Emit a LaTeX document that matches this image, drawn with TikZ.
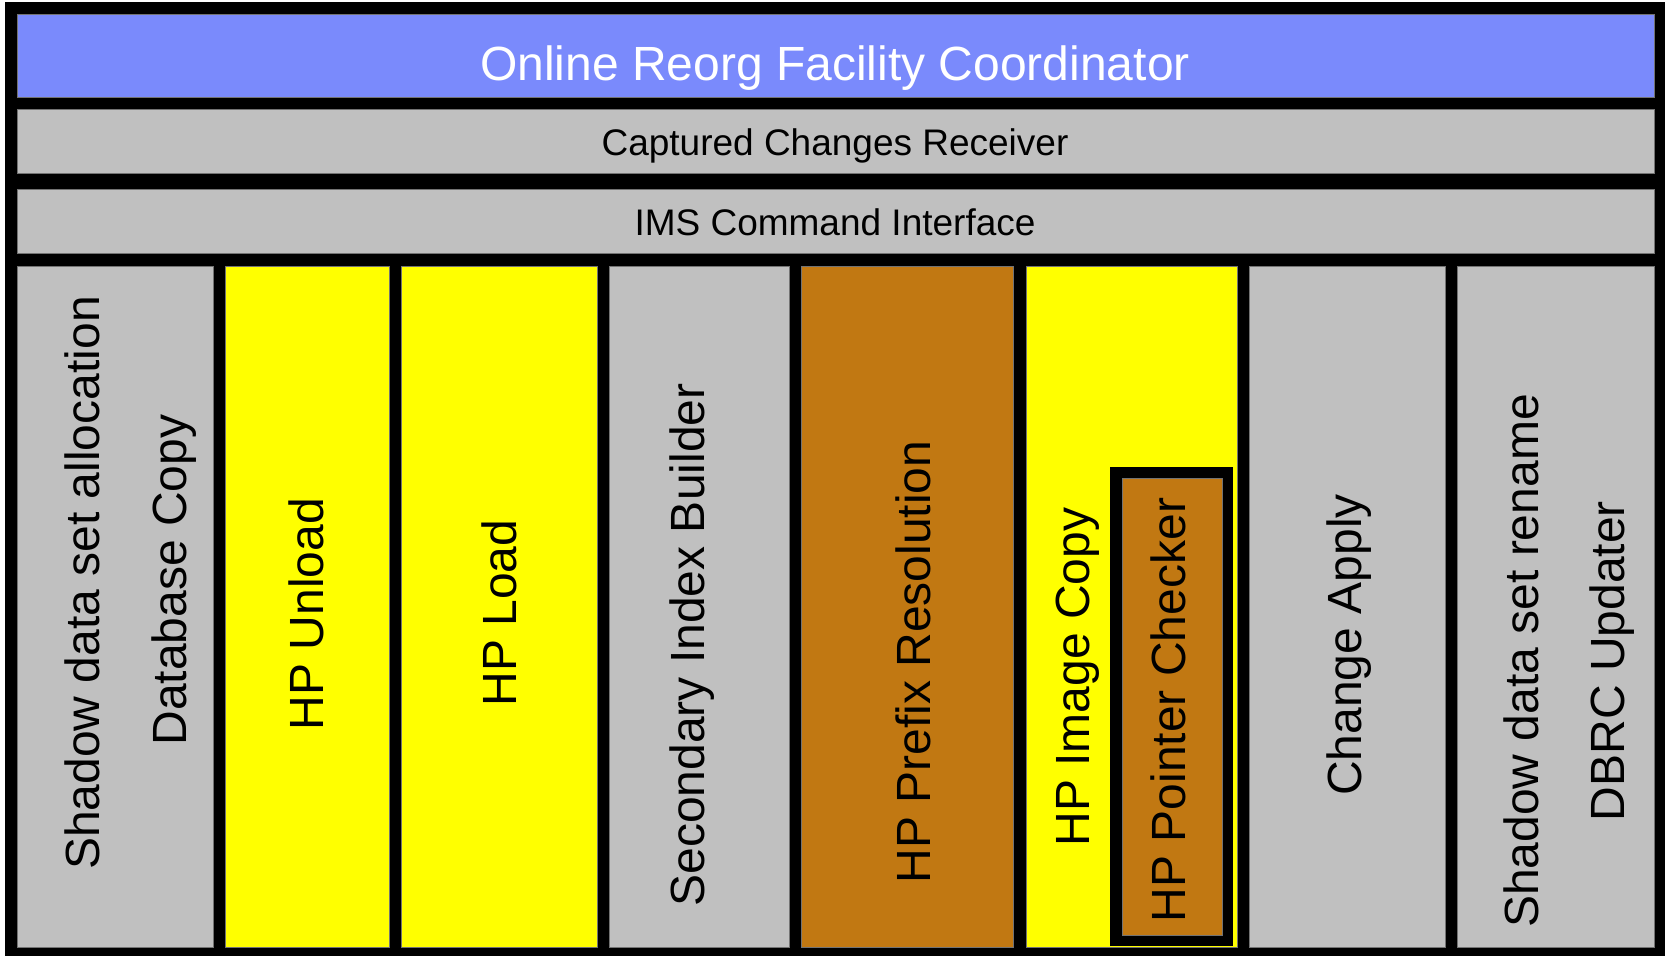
\documentclass[tikz,border=0pt]{standalone}
\usepackage{fontspec}
\setmainfont{Liberation Sans}
\definecolor{coordblue}{RGB}{122,138,252}
\definecolor{cellgray}{RGB}{192,192,192}
\definecolor{hpyellow}{RGB}{255,255,0}
\definecolor{hpbrown}{RGB}{193,120,18}
\begin{document}
\begin{tikzpicture}
  [x=0.5pt,y=-0.5pt,
   cell/.style={draw=black!55,line width=0.5pt},
   txt/.style={font=\fontsize{24}{28}\selectfont,inner sep=0pt,anchor=base},
   rowtxt/.style={txt,font=\fontsize{18.5}{22}\selectfont},
   vtxt/.style={txt,rotate=90}]
  \useasboundingbox (0,0) rectangle (1665,956);
  \fill[black] (5,2) rectangle (1665,956);

  % horizontal layers
  \filldraw[cell,fill=coordblue] (17,15) rectangle (1654,98);
  \filldraw[cell,fill=cellgray] (17,110) rectangle (1654,174);
  \filldraw[cell,fill=cellgray] (17,190) rectangle (1654,254);
  \node[txt,text=white] (orfc) at (835,81) {Online Reorg Facility Coordinator};
  \node[rowtxt] (ccr) at (835,156) {Captured Changes Receiver};
  \node[rowtxt] (ims) at (835,236) {IMS Command Interface};

  % columns
  \foreach \xa/\xb/\c in {17/213/cellgray,225/389/hpyellow,401/597/hpyellow,
      609/789/cellgray,801/1013/hpbrown,1026/1237/hpyellow,
      1249/1445/cellgray,1457/1654/cellgray}
     \filldraw[cell,fill=\c] (\xa,267) rectangle (\xb,947);
  \fill[black] (1110,467) rectangle (1233,946);
  \filldraw[cell,fill=hpbrown] (1122,479) rectangle (1222,935);

  \foreach \n/\bx/\cy/\t in {sdsa/99/583/Shadow data set allocation,
      dbcopy/186/580/Database Copy,unload/323/614/HP Unload,load/516/613/HP Load,
      sib/704/645/Secondary Index Builder,prefix/930/662/HP Prefix Resolution,
      imgcopy/1089/677/HP Image Copy,ptrchk/1185/710/HP Pointer Checker,
      chgapply/1361/645/Change Apply,sdsr/1538/661/Shadow data set rename,
      dbrc/1624/661/DBRC Updater}
     \node[vtxt] (\n) at (\bx,\cy) {\t};
\end{tikzpicture}
\end{document}
